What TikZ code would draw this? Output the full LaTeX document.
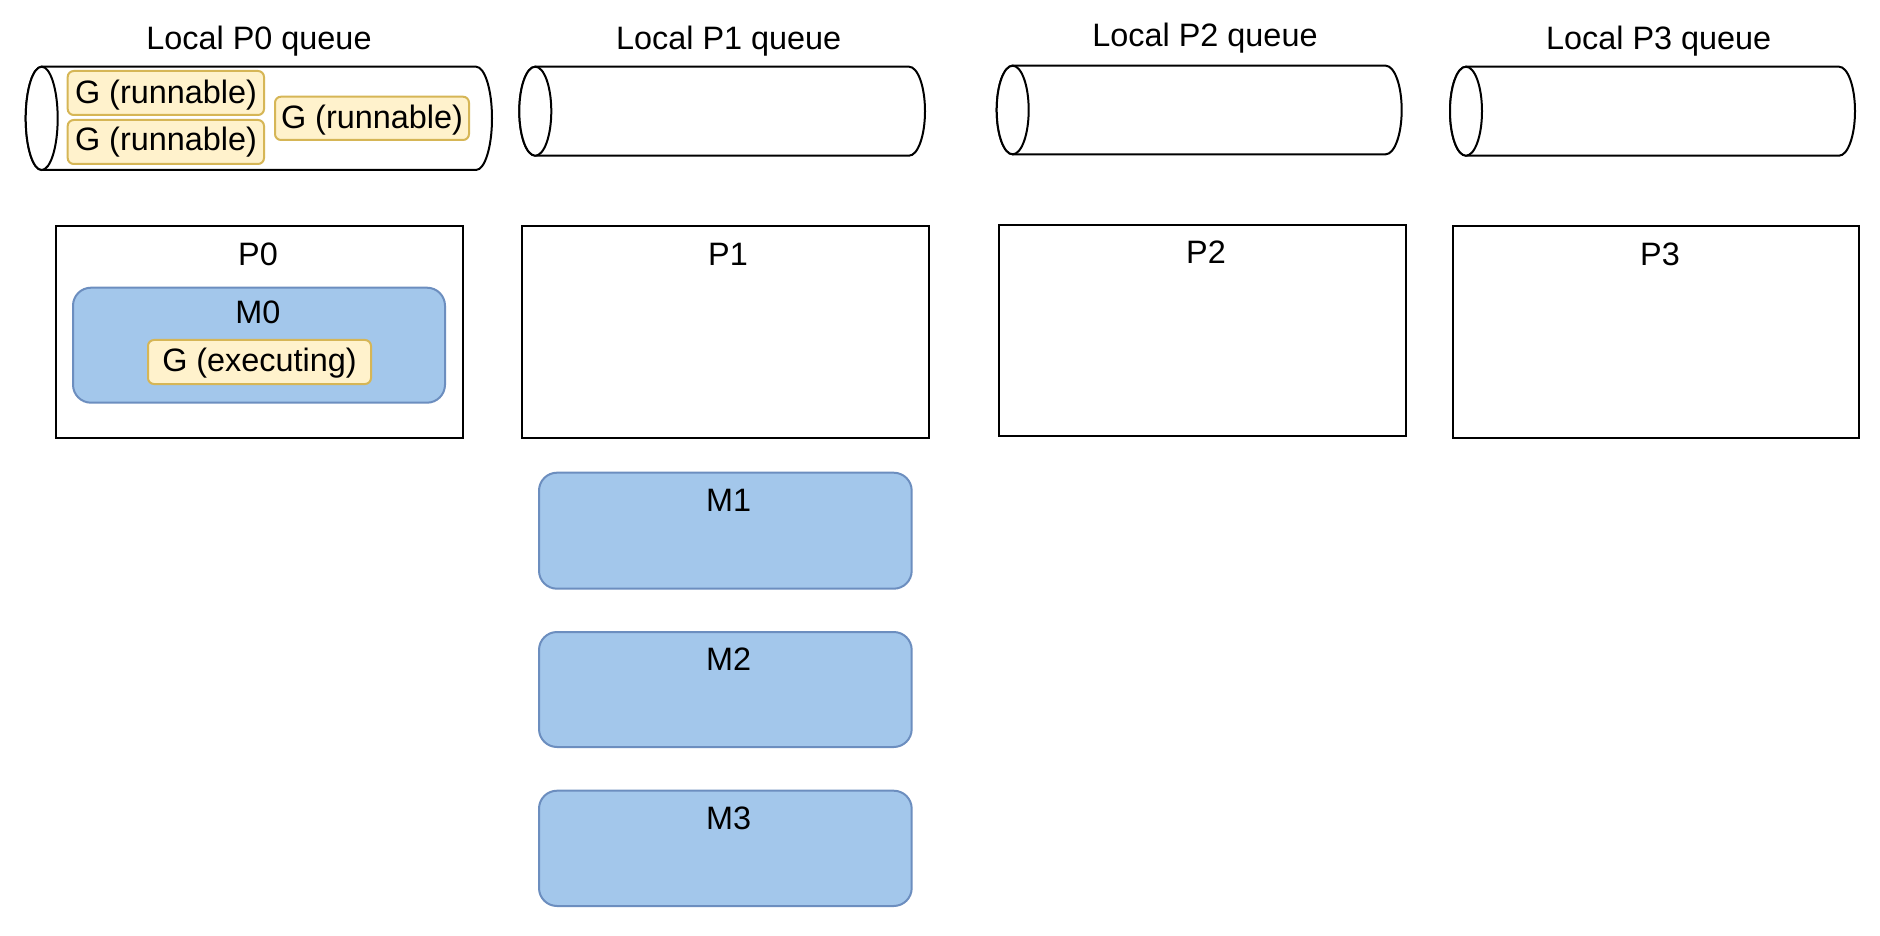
\documentclass[tikz,border=0pt]{standalone}
\usepackage{fontspec}
\setmainfont{Liberation Sans}
\usetikzlibrary{calc}
\definecolor{mfill}{HTML}{A3C7EB}
\definecolor{mline}{HTML}{6C8EBF}
\definecolor{gfill}{HTML}{FFF2CC}
\definecolor{gline}{HTML}{D6B656}
\tikzset{
  txt/.style={inner sep=0pt, outer sep=0pt, font=\fontsize{16.2}{19}\selectfont, text=black},
  pbox/.style={draw=black, line width=1pt, fill=white, rectangle, inner sep=0pt, outer sep=0pt},
  mbox/.style={draw=mline, line width=1pt, fill=mfill, rectangle, rounded corners=9pt, inner sep=0pt, outer sep=0pt},
  gbox/.style={draw=gline, line width=1pt, fill=gfill, rectangle, rounded corners=3pt, inner sep=0pt, outer sep=0pt},
  cylline/.style={draw=black, line width=1pt, fill=white},
}
% style, name, x1, y1, x2, y2 (pixels, y downward)
\newcommand\boxat[6]{\node[#1, anchor=north west, minimum width={(#5-#3)*0.5pt}, minimum height={(#6-#4)*0.5pt}] (#2) at (#3,-#4) {};}
% name, L, T, R, B
\newcommand\cylat[5]{%
  \draw[cylline] ({#2+16},-#3) -- ({#4-16},-#3)
    arc[start angle=90, end angle=-90, x radius=8pt, y radius={(#5-#3)*0.25pt}]
    -- ({#2+16},-#5)
    arc[start angle=270, end angle=90, x radius=8pt, y radius={(#5-#3)*0.25pt}] -- cycle;
  \draw[cylline] ({#2+16},{-(#3+#5)/2}) ellipse [x radius=8pt, y radius={(#5-#3)*0.25pt}];
  \coordinate (#1) at ({(#2+#4)/2},{-(#3+#5)/2});}
\begin{document}
\begin{tikzpicture}[x=0.5pt,y=0.5pt]
\useasboundingbox[fill=white] (0,0) rectangle (1880,-936);

% queue titles
\node[txt, anchor=base] (t0) at (259,-49.3) {Local P0 queue};
\node[txt, anchor=base] (t1) at (728.7,-49.3) {Local P1 queue};
\node[txt, anchor=base] (t2) at (1205,-46.7) {Local P2 queue};
\node[txt, anchor=base] (t3) at (1658.7,-50) {Local P3 queue};

% queues
\cylat{q0}{25.7}{66.7}{492}{170}
\cylat{q1}{519.3}{66.7}{925}{155.7}
\cylat{q2}{996.7}{65.7}{1401.7}{154.3}
\cylat{q3}{1450}{66.7}{1855}{155.7}

% runnable goroutines in P0 queue
\boxat{gbox}{g1}{67.7}{71}{264}{115}
\boxat{gbox}{g2}{67.7}{120}{264}{164}
\boxat{gbox}{g3}{275}{96.7}{469}{140}
\node[txt, anchor=base] (g1t) at (166,-103.3) {G (runnable)};
\node[txt, anchor=base] (g2t) at (166,-151) {G (runnable)};
\node[txt, anchor=base] (g3t) at (372,-128.3) {G (runnable)};

% processors
\boxat{pbox}{p0}{55.7}{226}{462.7}{438}
\boxat{pbox}{p1}{522.3}{225.7}{929}{437.6}
\boxat{pbox}{p2}{999}{225}{1406}{436.4}
\boxat{pbox}{p3}{1452.7}{226}{1859.3}{437.6}
\node[txt, anchor=base] (p0t) at (258,-266) {P0};
\node[txt, anchor=base] (p1t) at (728,-265.7) {P1};
\node[txt, anchor=base] (p2t) at (1206,-264) {P2};
\node[txt, anchor=base] (p3t) at (1660,-265.7) {P3};

% machines
\boxat{mbox}{m0}{73}{287.7}{445}{402.7}
\node[txt, anchor=base] (m0t) at (258,-323.3) {M0};
\boxat{gbox}{ge}{148}{340}{371}{384}
\node[txt, anchor=base] (get) at (259.5,-371.7) {G (executing)};

\boxat{mbox}{m1}{539}{472.7}{911.7}{588.7}
\boxat{mbox}{m2}{539}{632}{911.7}{747}
\boxat{mbox}{m3}{539}{790.7}{911.7}{906}
\node[txt, anchor=base] (m1t) at (728.7,-511) {M1};
\node[txt, anchor=base] (m2t) at (728.7,-670) {M2};
\node[txt, anchor=base] (m3t) at (728.7,-829) {M3};
\end{tikzpicture}
\end{document}
